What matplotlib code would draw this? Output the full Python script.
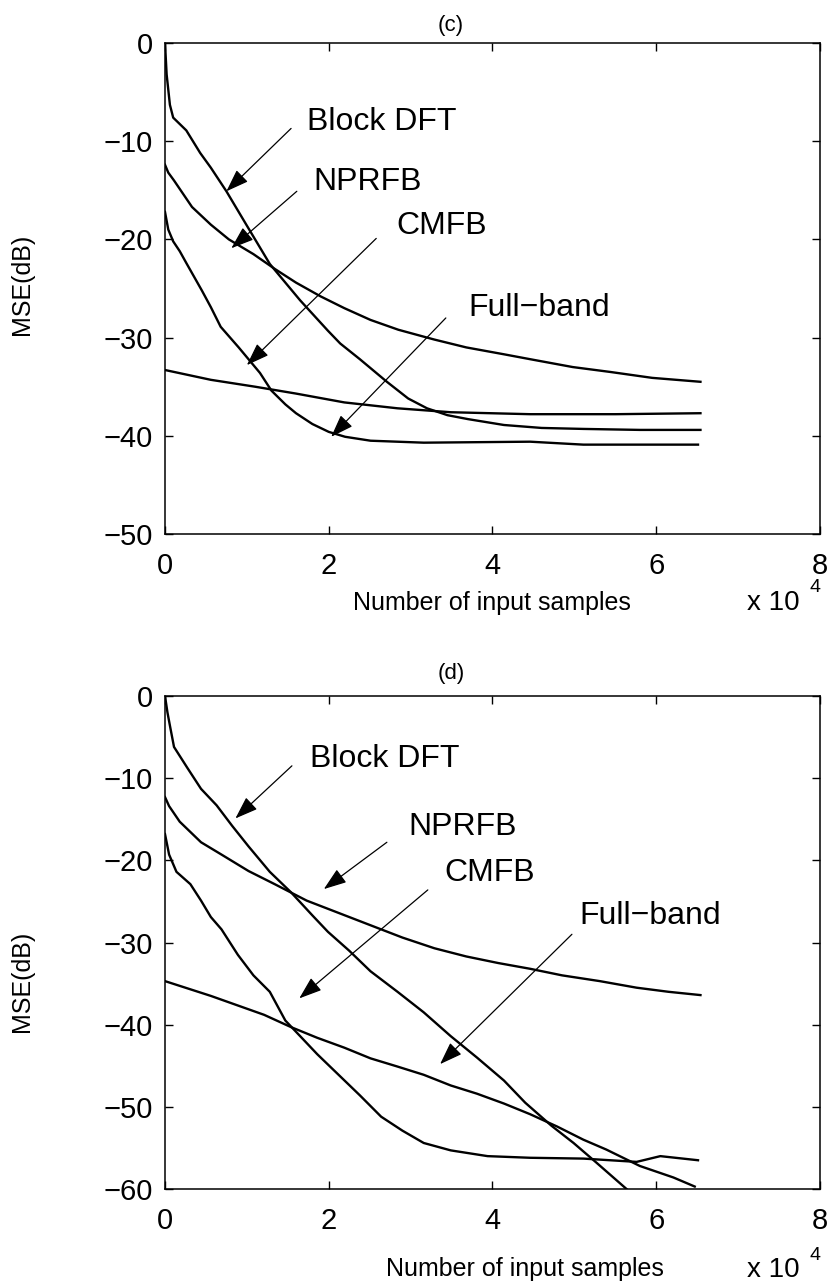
import matplotlib
matplotlib.use("Agg")
import matplotlib.pyplot as plt

plt.rcParams["font.family"] = ["Liberation Sans", "DejaVu Sans"]

# x values are in units of 1e4 input samples, MSE in dB

# ---- panel (c)
c_dft_x = [0, 0.02, 0.06, 0.10, 0.26, 0.43, 0.56, 0.75, 1.00, 1.28, 1.47, 1.65, 1.99,
           2.14, 2.38, 2.71, 2.97, 3.20, 3.45, 3.70, 4.14, 4.60, 5.11, 5.80, 6.54]
c_dft_y = [0, -3.2, -6.3, -7.6, -8.9, -11.2, -12.7, -15.1, -18.6, -22.5, -24.4, -26.2, -29.3,
           -30.6, -32.2, -34.5, -36.2, -37.2, -37.9, -38.3, -38.9, -39.2, -39.3, -39.4, -39.4]

c_nprfb_x = [0, 0.04, 0.11, 0.33, 0.56, 0.78, 1.08, 1.34, 1.60, 1.90, 2.19, 2.51, 2.85,
             3.29, 3.68, 4.14, 4.46, 4.98, 5.44, 5.95, 6.54]
c_nprfb_y = [-12.4, -13.2, -14.0, -16.7, -18.5, -20.0, -21.5, -23.0, -24.4, -25.8, -27.0,
             -28.2, -29.2, -30.2, -31.0, -31.7, -32.2, -33.0, -33.5, -34.1, -34.5]

c_cmfb_x = [0, 0.04, 0.10, 0.18, 0.26, 0.45, 0.56, 0.68, 0.90, 1.02, 1.16, 1.30, 1.47,
            1.60, 1.80, 2.00, 2.20, 2.51, 3.16, 4.46, 5.11, 6.51]
c_cmfb_y = [-17.2, -19.0, -20.2, -21.2, -22.4, -25.2, -26.9, -28.9, -31.0, -32.2, -33.6,
            -35.4, -36.8, -37.7, -38.8, -39.6, -40.1, -40.5, -40.7, -40.6, -40.9, -40.9]

c_full_x = [0, 0.56, 1.10, 1.60, 2.19, 2.84, 3.49, 4.46, 5.50, 6.54]
c_full_y = [-33.3, -34.3, -35.0, -35.7, -36.6, -37.2, -37.6, -37.8, -37.8, -37.7]

# ---- panel (d)
d_dft_x = [0, 0.03, 0.06, 0.11, 0.27, 0.44, 0.63, 0.82, 1.02, 1.28, 1.54, 1.80, 1.99,
           2.25, 2.51, 2.84, 3.16, 3.49, 3.81, 4.14, 4.40, 4.72, 4.99, 5.27, 5.66]
d_dft_y = [0, -2.0, -3.6, -6.2, -8.7, -11.3, -13.3, -15.8, -18.3, -21.4, -23.9, -26.7, -28.7,
           -31.0, -33.5, -36.0, -38.5, -41.4, -44.0, -46.8, -49.5, -52.3, -54.4, -56.8, -60.2]

d_nprfb_x = [0, 0.05, 0.18, 0.44, 0.69, 1.02, 1.34, 1.73, 2.12, 2.51, 2.90, 3.29, 3.68,
             4.07, 4.46, 4.85, 5.31, 5.76, 6.15, 6.54]
d_nprfb_y = [-12.3, -13.4, -15.3, -17.8, -19.3, -21.3, -22.9, -24.9, -26.4, -27.9, -29.4,
             -30.7, -31.7, -32.5, -33.2, -34.0, -34.7, -35.5, -36.0, -36.4]

d_cmfb_x = [0, 0.05, 0.14, 0.31, 0.44, 0.56, 0.69, 0.89, 1.08, 1.28, 1.47, 1.67, 1.86,
            2.12, 2.38, 2.64, 2.90, 3.16, 3.49, 3.94, 4.46, 5.11, 5.76, 6.05, 6.51]
d_cmfb_y = [-16.8, -19.3, -21.4, -22.9, -24.9, -26.9, -28.4, -31.5, -34.0, -36.0, -39.5,
            -41.6, -43.6, -46.1, -48.6, -51.2, -52.9, -54.4, -55.3, -56.0, -56.2, -56.3,
            -56.7, -56.0, -56.5]

d_full_x = [0, 0.56, 1.21, 1.54, 1.86, 2.19, 2.51, 2.84, 3.16, 3.49, 3.81, 4.14, 4.46,
            4.79, 5.11, 5.39, 5.80, 6.21, 6.47]
d_full_y = [-34.7, -36.5, -38.8, -40.3, -41.6, -42.8, -44.1, -45.1, -46.1, -47.4, -48.4,
            -49.6, -50.9, -52.4, -54.0, -55.2, -57.2, -58.6, -59.7]

names = ["Block DFT", "NPRFB", "CMFB", "Full\u2212band"]

W, H = 831, 1286
fig = plt.figure(figsize=(W / 100, H / 100), dpi=100)


def px_axes(left, top, right, bottom):
    return fig.add_axes([left / W, 1 - bottom / H, (right - left) / W, (bottom - top) / H])


def draw_panel(ax, curves, ymin, notes):
    for xs, ys in curves:
        ax.plot(xs, ys, color="black", lw=1.7)
    ax.set_xlim(0, 8)
    ax.set_ylim(ymin, 0)
    ax.set_xticks([0, 2, 4, 6, 8])
    ax.set_yticks(list(range(ymin, 1, 10)))
    ax.tick_params(direction="in", top=True, right=True, length=6, width=1,
                   labelsize=21)
    ax.tick_params(axis="x", pad=13)
    ax.tick_params(axis="y", pad=9)
    for s in ax.spines.values():
        s.set_linewidth(1.1)
    for name, (tx, ty), tail, head in notes:
        ax.text(tx, ty, name, fontsize=23, ha="left", va="center")
        ax.annotate("", xy=head, xytext=tail,
                    arrowprops=dict(arrowstyle="-|>,head_length=0.7,head_width=0.25",
                                    color="black", lw=0.9, mutation_scale=20,
                                    shrinkA=0, shrinkB=0))


ax_c = px_axes(165, 43, 820, 534)
draw_panel(ax_c,
           [(c_dft_x, c_dft_y), (c_nprfb_x, c_nprfb_y),
            (c_cmfb_x, c_cmfb_y), (c_full_x, c_full_y)],
           -50,
           [(names[0], (1.74, -8.0), (1.54, -8.7), (0.75, -15.1)),
            (names[1], (1.81, -14.2), (1.61, -15.1), (0.81, -20.9)),
            (names[2], (2.83, -18.6), (2.58, -19.9), (1.00, -32.8)),
            (names[3], (3.71, -27.0), (3.43, -28.0), (2.03, -40.1))])

ax_d = px_axes(165, 696, 820, 1189)
draw_panel(ax_d,
           [(d_dft_x, d_dft_y), (d_nprfb_x, d_nprfb_y),
            (d_cmfb_x, d_cmfb_y), (d_full_x, d_full_y)],
           -60,
           [(names[0], (1.77, -7.7), (1.55, -8.5), (0.86, -14.9)),
            (names[1], (2.97, -15.9), (2.71, -17.8), (1.94, -23.5)),
            (names[2], (3.41, -21.5), (3.21, -23.6), (1.64, -36.8)),
            (names[3], (5.06, -26.8), (4.97, -29.0), (3.36, -44.8))])


# titles, axis labels and the x10^4 multiplier placed in figure pixels
def ftext(x, y, s, **kw):
    fig.text(x / W, 1 - y / H, s, **kw)


ftext(451, 25, "(c)", fontsize=16, ha="center", va="center")
ftext(451, 674, "(d)", fontsize=16, ha="center", va="center")
ftext(22, 284, "MSE(dB)", fontsize=18, rotation=90, ha="center", va="center")
ftext(22, 981, "MSE(dB)", fontsize=18, rotation=90, ha="center", va="center")
ftext(492, 603, "Number of input samples", fontsize=18, ha="center", va="center")
ftext(525, 1269, "Number of input samples", fontsize=18, ha="center", va="center")
for y0 in (603, 1270):
    ftext(773, y0, "x 10", fontsize=20, ha="center", va="center")
    ftext(815, y0 - 15, "4", fontsize=14, ha="center", va="center")

fig.savefig("out.png", dpi=100)
plt.close(fig)
